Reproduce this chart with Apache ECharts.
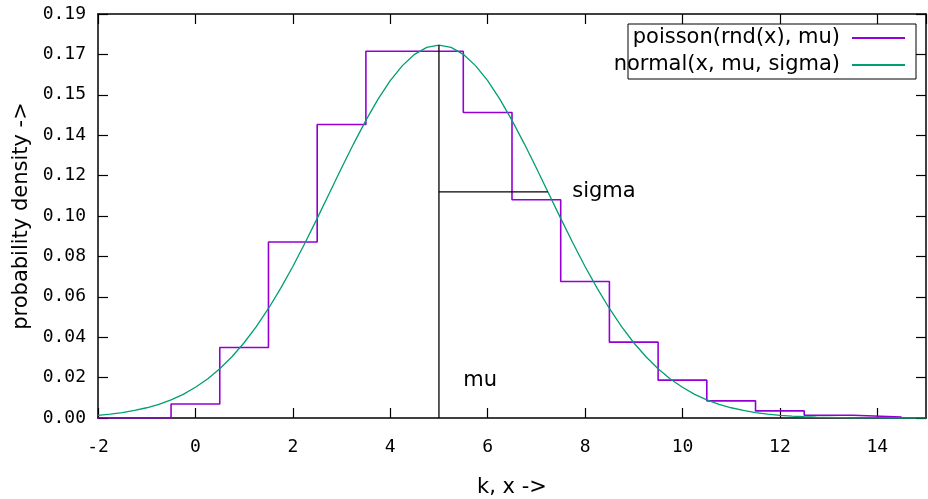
<!DOCTYPE html>
<html>
<head>
<meta charset="utf-8">
<script src="https://cdn.jsdelivr.net/npm/echarts@6/dist/echarts.min.js"></script>
<style>
html,body{margin:0;padding:0;background:#fff;}
#chart{width:928px;height:499px;}
</style>
</head>
<body>
<div id="chart"></div>
<script>
// ---- data ----
var kValues = [0,1,2,3,4,5,6,7,8,9,10,11,12,13,14];
var poissonValues = [0.0067,0.0337,0.0842,0.1404,0.1755,0.1755,0.1462,0.1044,0.0653,0.0363,0.0181,0.0082,0.0034,0.0013,0.0005];

var normalX = [-2,-1.75,-1.5,-1.25,-1,-0.75,-0.5,-0.25,0,0.25,0.5,0.75,1,1.25,1.5,1.75,2,2.25,2.5,2.75,3,3.25,3.5,3.75,4,4.25,4.5,4.75,5,
  5.25,5.5,5.75,6,6.25,6.5,6.75,7,7.25,7.5,7.75,8,8.25,8.5,8.75,9,9.25,9.5,9.75,10,10.25,10.5,10.75,11,11.25,11.5,11.75,12,12.25,12.5,12.75,13,13.25,13.5,13.75,14,14.25,14.5,14.75,15];
var normalY = [0.0013,0.0019,0.0026,0.0036,0.0049,0.0065,0.0087,0.0113,0.0147,0.0187,0.0236,0.0293,0.0360,0.0437,0.0524,0.0620,0.0725,0.0837,0.0955,0.1075,0.1196,0.1313,0.1424,0.1526,0.1614,0.1686,0.1740,0.1773,0.1784,
  0.1773,0.1740,0.1686,0.1614,0.1526,0.1424,0.1313,0.1196,0.1075,0.0955,0.0837,0.0725,0.0620,0.0524,0.0437,0.0360,0.0293,0.0236,0.0187,0.0147,0.0113,0.0087,0.0065,0.0049,0.0036,0.0026,0.0019,0.0013,0.0009,0.0006,0.0004,0.0003,0.0002,0.0001,0.0001,0.0001,0.0000,0.0000,0.0000,0.0000];

var mu = 5;
var sigma = 2.236;
var peakValue = 0.1784;
var sigmaLevel = 0.1082;
var muLabelY = 0.0178;

var xTickLabels = ['-2','0','2','4','6','8','10','12','14'];
var yTickLabels = ['0.00','0.02','0.04','0.06','0.08','0.10','0.12','0.14','0.15','0.17','0.19'];
var yMax = 0.1933;

var seriesNames = ['poisson(rnd(x), mu)', 'normal(x, mu, sigma)'];

// ---- build ----
var poissonData = [[-2, 0]];
for (var i = 0; i < kValues.length; i++) poissonData.push([kValues[i] - 0.5, poissonValues[i]]);
poissonData.push([kValues[kValues.length-1] + 0.5, poissonValues[poissonValues.length-1]]);

var normalData = normalX.map(function(x, i){ return [x, normalY[i]]; });

var yInterval = yMax / 10;
var tickFont = {fontFamily: 'DejaVu Sans Mono', fontSize: 18, color: '#000'};
var textFont = 'DejaVu Sans';
var fs = 21;

var chart = echarts.init(document.getElementById('chart'), null, {renderer: 'canvas'});

var axisLineStyle = {show: true, onZero: false, lineStyle: {color: '#000', width: 1.5}};
var tickStyle = {show: true, inside: true, length: 10, lineStyle: {color: '#000', width: 1.2}};

chart.setOption({
  animation: false,
  backgroundColor: '#fff',
  grid: {left: 98, right: 2, top: 14, bottom: 81, containLabel: false, outerBoundsMode: 'none'},
  xAxis: [{
    type: 'value', min: -2, max: 15, interval: 2,
    axisLine: axisLineStyle, axisTick: tickStyle, splitLine: {show: false},
    axisLabel: Object.assign({margin: 20, showMaxLabel: false, formatter: function(v){
      var idx = Math.round((v + 2) / 2); return xTickLabels[idx] !== undefined ? xTickLabels[idx] : '';
    }}, tickFont),
    name: 'k, x ->', nameLocation: 'middle', nameGap: 59,
    nameTextStyle: {fontFamily: textFont, fontSize: fs, color: '#000'}
  }, {
    type: 'value', min: -2, max: 15, interval: 2, position: 'top',
    axisLine: axisLineStyle, axisTick: tickStyle, axisLabel: {show: false}, splitLine: {show: false}
  }],
  yAxis: [{
    type: 'value', min: 0, max: yMax, interval: yInterval,
    axisLine: axisLineStyle, axisTick: tickStyle, splitLine: {show: false},
    axisLabel: Object.assign({margin: 12, formatter: function(v){
      var idx = Math.round(v / yInterval); return yTickLabels[idx] !== undefined ? yTickLabels[idx] : '';
    }}, tickFont),
    name: 'probability density ->', nameLocation: 'middle', nameGap: 66, nameRotate: 90,
    nameTextStyle: {fontFamily: textFont, fontSize: fs, color: '#000'}
  }, {
    type: 'value', min: 0, max: yMax, interval: yInterval, position: 'right',
    axisLine: axisLineStyle, axisTick: tickStyle, axisLabel: {show: false}, splitLine: {show: false}
  }],
  legend: [{
    data: [seriesNames[0]], orient: 'vertical', align: 'right', right: 23, top: 26, padding: 0,
    icon: 'rect', itemWidth: 53, itemHeight: 2,
    textStyle: {fontFamily: textFont, fontSize: fs, color: '#000', lineHeight: 24, padding: [0, 7, 0, 0]}
  }, {
    data: [seriesNames[1]], orient: 'vertical', align: 'right', right: 23, top: 53, padding: 0,
    icon: 'rect', itemWidth: 53, itemHeight: 2,
    textStyle: {fontFamily: textFont, fontSize: fs, color: '#000', lineHeight: 24, padding: [0, 7, 0, 0]}
  }],
  graphic: [{
    type: 'rect', shape: {x: 628, y: 24, width: 288, height: 55},
    style: {fill: 'none', stroke: '#000', lineWidth: 1}, z: 10
  }],
  series: [{
    name: seriesNames[0], type: 'line', step: 'end', data: poissonData,
    showSymbol: false, symbol: 'none', color: '#9400d3',
    lineStyle: {color: '#9400d3', width: 1.6}, z: 2
  }, {
    name: seriesNames[1], type: 'line', data: normalData,
    showSymbol: false, symbol: 'none', color: '#009e73',
    lineStyle: {color: '#009e73', width: 1.3}, z: 3
  }, {
    name: 'mu', type: 'line', data: [[mu, 0], [mu, peakValue]],
    symbol: 'none', lineStyle: {color: '#000', width: 1.3, opacity: 1}, z: 4
  }, {
    name: 'sigma', type: 'line', data: [[mu, sigmaLevel], [mu + sigma, sigmaLevel]],
    symbol: 'none', lineStyle: {color: '#000', width: 1.3, opacity: 1}, z: 4
  }, {
    name: 'labels', type: 'scatter', symbolSize: 0, silent: true,
    itemStyle: {opacity: 1, color: '#000'},
    data: [
      {value: [mu + 0.5, muLabelY], label: {formatter: 'mu'}},
      {value: [mu + sigma + 0.5, sigmaLevel], label: {formatter: 'sigma'}}
    ],
    label: {show: true, position: 'right', distance: 0, fontFamily: textFont, fontSize: fs, color: '#000', opacity: 1}
  }]
});
</script>
</body>
</html>
